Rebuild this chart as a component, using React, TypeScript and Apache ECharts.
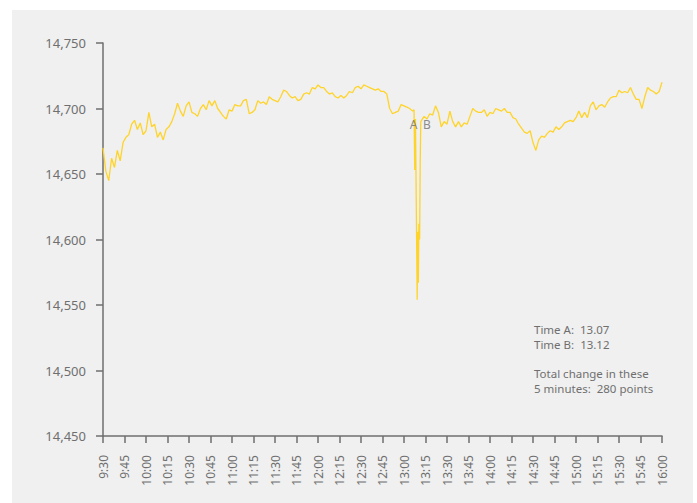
import React, { useEffect, useRef } from "react";
import * as echarts from "echarts";

// Tick labels of the time axis (every 15 minutes from 9:30)
const timeLabels = [
  "9:30", "9:45", "10:00", "10:15", "10:30", "10:45", "11:00", "11:15", "11:30", "11:45",
  "12:00", "12:15", "12:30", "12:45", "13:00", "13:15", "13:30", "13:45", "14:00", "14:15",
  "14:30", "14:45", "15:00", "15:15", "15:30", "15:45", "16:00",
];

// Index level sampled every 2 minutes from 9:30 (minute 0) to 16:00 (minute 390)
const stepMinutes = 2;
const indexLevels = [
  14670, 14652, 14645, 14662, 14655, 14668, 14660, 14674, 14678, 14680,
  14688, 14691, 14684, 14689, 14680, 14683, 14697, 14686, 14688, 14678,
  14682, 14676, 14684, 14686, 14690, 14696, 14704, 14698, 14694, 14702,
  14705, 14697, 14696, 14694, 14700, 14703, 14699, 14706, 14702, 14706,
  14700, 14697, 14694, 14692, 14699, 14698, 14703, 14702, 14702, 14706,
  14707, 14696, 14697, 14699, 14706, 14704, 14705, 14703, 14709, 14707,
  14706, 14705, 14709, 14714, 14713, 14710, 14708, 14709, 14706, 14707,
  14711, 14712, 14711, 14716, 14715, 14718, 14716, 14716, 14713, 14711,
  14712, 14709, 14708, 14710, 14708, 14710, 14713, 14712, 14716, 14717,
  14715, 14718, 14717, 14716, 14715, 14714, 14715, 14713, 14713, 14711,
  14700, 14696, 14697, 14698, 14703, 14702, 14701, 14700, 14698, 14653,
  14567, 14690, 14694, 14692, 14696, 14695, 14702, 14697, 14686, 14690,
  14688, 14698, 14690, 14686, 14690, 14686, 14689, 14688, 14694, 14700,
  14698, 14697, 14697, 14699, 14694, 14697, 14696, 14700, 14699, 14698,
  14700, 14697, 14697, 14693, 14692, 14688, 14685, 14682, 14681, 14683,
  14674, 14668, 14676, 14679, 14678, 14681, 14683, 14682, 14686, 14684,
  14686, 14689, 14690, 14691, 14690, 14693, 14698, 14693, 14697, 14693,
  14702, 14705, 14699, 14702, 14703, 14701, 14705, 14708, 14709, 14709,
  14714, 14712, 14713, 14712, 14716, 14711, 14707, 14707, 14700, 14709,
  14716, 14714, 14713, 14711, 14713, 14720,
];

// Fine-grained flash-crash detail (minutes after 9:30)
const dipMinutes = [217, 217.5, 218, 219.2, 219.6, 220.0, 220.4, 220.9, 221.3, 221.7];
const dipLevels = [14699, 14653, 14692, 14554, 14606, 14567, 14612, 14600, 14658, 14690];

// A / B markers
const markerNames = ["A", "B"];
const markerMinutes = [216.6, 226];
const markerLevels = [14688, 14688];

// Y axis
const yMin = 14450;
const yMax = 14750;
const yStep = 50;

const noteLines = [
  "Time A:  13.07",
  "Time B:  13.12",
  "Total change in these",
  "5 minutes:  280 points",
];
const noteLineY = [329.5, 344.5, 373, 388];

const textColor = "#6f6f6f";
const lineColor = "#FFD42A";
const fontFamily = "'Noto Sans', sans-serif";

export default function App() {
  const ref = useRef<HTMLDivElement>(null);

  useEffect(() => {
    if (!ref.current) return;
    const chart = echarts.init(ref.current, undefined, { renderer: "svg" });

    const first = dipMinutes[0];
    const last = dipMinutes[dipMinutes.length - 1];
    const gridPts = indexLevels
      .map((v, i) => [i * stepMinutes, v])
      .filter(([m]) => m <= first || m >= last);
    const dipPts = dipMinutes.map((m, i) => [m, dipLevels[i]]);
    const data = gridPts.concat(dipPts).sort((a, b) => a[0] - b[0]);

    const markers = markerNames.map((n, i) => ({
      value: [markerMinutes[i], markerLevels[i]],
      name: n,
    }));

    const noteGraphics = noteLines.map((t, i) => ({
      type: "text",
      x: 534,
      y: noteLineY[i],
      style: {
        text: t,
        fill: textColor,
        font: `11.5px ${fontFamily}`,
        verticalAlign: "middle",
        align: "left",
      },
      z: 10,
    }));

    chart.setOption({
      animation: false,
      backgroundColor: "#ffffff",
      graphic: [
        {
          type: "rect",
          shape: { x: 12, y: 10, width: 681, height: 493 },
          style: { fill: "#f0f0f0" },
          z: -10,
          silent: true,
        },
        ...noteGraphics,
      ],
      grid: { left: 103, right: 35, top: 43, bottom: 67, containLabel: false },
      xAxis: {
        type: "value",
        min: 0,
        max: 390,
        interval: 15,
        axisLine: { show: true, lineStyle: { color: textColor, width: 1.5 } },
        axisTick: { show: true, length: 7, lineStyle: { color: textColor, width: 1.5 } },
        splitLine: { show: false },
        axisLabel: {
          rotate: 90,
          margin: 19,
          color: textColor,
          fontSize: 12,
          fontFamily,
          formatter: (v: number) => timeLabels[Math.round(v / 15)] ?? "",
        },
      },
      yAxis: {
        type: "value",
        min: yMin,
        max: yMax,
        interval: yStep,
        axisLine: { show: true, lineStyle: { color: textColor, width: 1.5 } },
        axisTick: { show: true, length: 7, lineStyle: { color: textColor, width: 1.5 } },
        splitLine: { show: false },
        axisLabel: {
          margin: 17,
          color: textColor,
          fontSize: 13,
          fontFamily,
          formatter: (v: number) => v.toLocaleString("en-US"),
        },
      },
      series: [
        {
          type: "line",
          data,
          showSymbol: false,
          symbol: "none",
          lineStyle: { color: lineColor, width: 1.3 },
          z: 3,
        },
        {
          type: "scatter",
          data: markers,
          symbolSize: 2,
          itemStyle: { color: "rgba(0,0,0,0)" },
          label: {
            show: true,
            position: "inside",
            formatter: (p: any) => p.name,
            color: textColor,
            fontSize: 12,
            fontFamily,
          },
          z: 5,
        },
      ],
    });

    return () => chart.dispose();
  }, []);

  return (
    <div
      ref={ref}
      style={{ position: "absolute", left: 0, top: 0, width: 697, height: 503 }}
    />
  );
}
